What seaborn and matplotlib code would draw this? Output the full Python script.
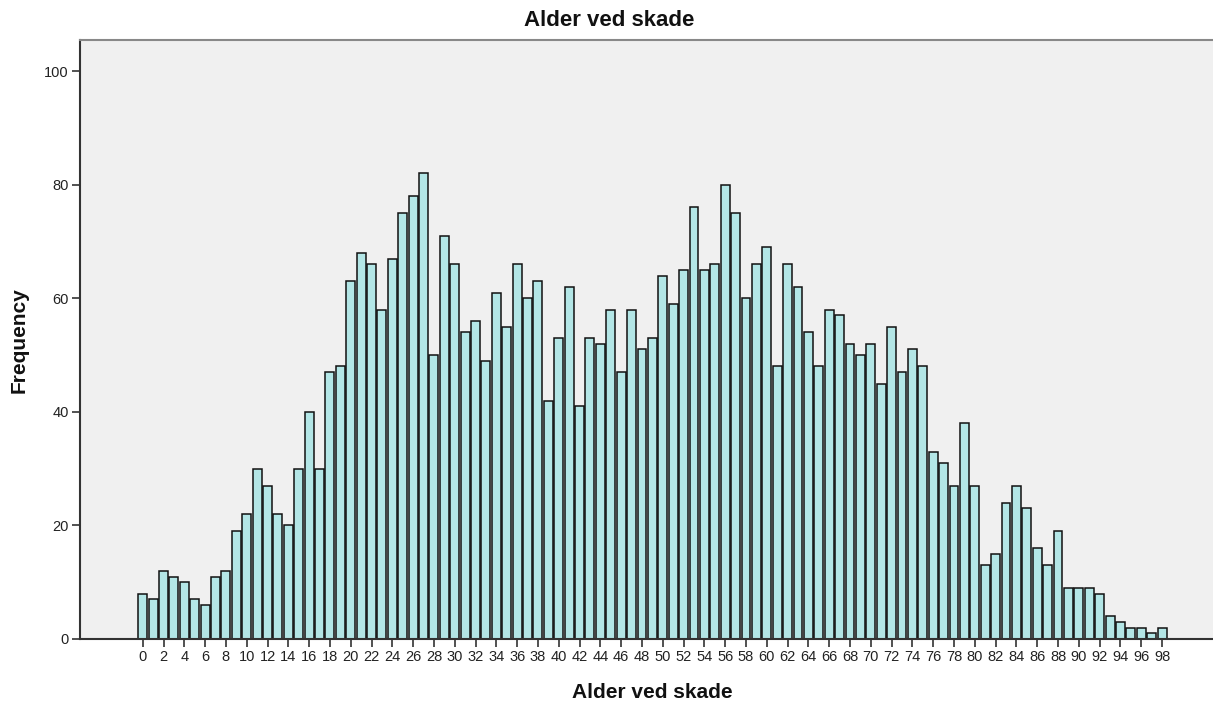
import numpy as np
import pandas as pd
import matplotlib
matplotlib.use("Agg")
import matplotlib.pyplot as plt
import seaborn as sns

ages = list(range(0, 99))
frequency = [
    8, 7, 12, 11, 10, 7, 6, 11, 12, 19,
    22, 30, 27, 22, 20, 30, 40, 30, 47, 48,
    63, 68, 66, 58, 67, 75, 78, 82, 50, 71,
    66, 54, 56, 49, 61, 55, 66, 60, 63, 42,
    53, 62, 41, 53, 52, 58, 47, 58, 51, 53,
    64, 59, 65, 76, 65, 66, 80, 75, 60, 66,
    69, 48, 66, 62, 54, 48, 58, 57, 52, 50,
    52, 45, 55, 47, 51, 48, 33, 31, 27, 38,
    27, 13, 15, 24, 27, 23, 16, 13, 19, 9,
    9, 9, 8, 4, 3, 2, 2, 1, 2,
]
tick_ages = list(range(0, 99, 2))
y_ticks = [0, 20, 40, 60, 80, 100]
title = "Alder ved skade"
x_label = "Alder ved skade"
y_label = "Frequency"

df = pd.DataFrame({"age": ages, "freq": frequency})

sns.set_theme(style="white")
plt.rcParams["font.family"] = ["Liberation Sans", "DejaVu Sans"]

W, H = 1213, 704
fig = plt.figure(figsize=(W / 100, H / 100), dpi=100)
ax = fig.add_axes([80 / W, (H - 639) / H, (W - 80) / W, (639 - 40) / H])
ax.set_facecolor("#F0F0F0")

sns.barplot(data=df, x="age", y="freq", order=ages, color="#B3E6E6",
            edgecolor="#111111", linewidth=1.1, width=0.86, saturation=1,
            ax=ax)
for p in ax.patches:
    p.set_facecolor("#B3E6E6")

ax.set_xlim(-6.03, 102.9)
ax.set_ylim(0, 105.5)
ax.set_xticks(tick_ages)
ax.set_xticklabels([str(a) for a in tick_ages], fontsize=10.5, color="#222222")
ax.set_yticks(y_ticks)
ax.set_yticklabels([str(v) for v in y_ticks], fontsize=10.5, color="#222222")
ax.tick_params(axis="both", which="both", length=6, width=1.2, color="#333333",
               direction="out", pad=2)
ax.tick_params(axis="x", bottom=True)
ax.tick_params(axis="y", left=True)

for side in ["left", "bottom"]:
    ax.spines[side].set_color("#333333")
    ax.spines[side].set_linewidth(1.5)
ax.spines["top"].set_color("#888888")
ax.spines["top"].set_linewidth(1.5)
ax.spines["right"].set_visible(False)

ax.set_xlabel(x_label, fontsize=15, fontweight="bold", color="#111111")
ax.set_ylabel(y_label, fontsize=15, fontweight="bold", color="#111111")
ax.xaxis.set_label_coords((652 - 80) / (W - 80), -(693 - 639) / (639 - 40))
ax.xaxis.label.set_va("center")
ax.yaxis.set_label_coords(-(80 - 19) / (W - 80), (639 - 340) / (639 - 40))
ax.yaxis.label.set_va("center")
fig.text(609 / W, 1 - 21 / H, title, ha="center", va="center",
         fontsize=16, fontweight="bold", color="#111111")

fig.savefig("out.png", dpi=100, facecolor="white")
